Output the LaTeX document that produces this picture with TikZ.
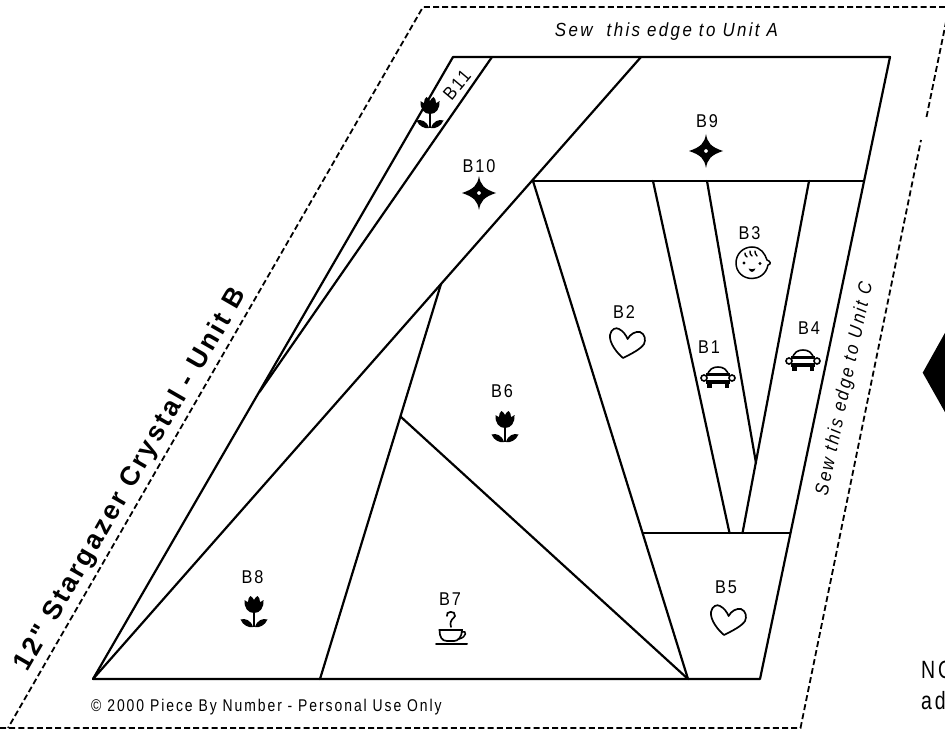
\documentclass[tikz,border=0pt]{standalone}
\usepackage{fontspec}
\usepackage{graphicx}
\setmainfont{Liberation Sans}
\newfontfamily\lab[LetterSpace=12]{Liberation Sans}
\newfontfamily\ita[LetterSpace=14]{Liberation Sans}
\newfontfamily\cpy[LetterSpace=14]{Liberation Sans}
\newfontfamily\ttl[LetterSpace=10]{Liberation Sans}
\newfontfamily\nte[LetterSpace=14]{Liberation Sans}
\newcommand\narrowed[2]{\scalebox{#1}[1]{#2}}
\tikzset{
  seam/.style={line width=2.2pt,line cap=round,line join=round},
  cutline/.style={line width=1.8pt,dash pattern=on 6pt off 3.2pt},
  plabel/.style={inner sep=0pt,font=\lab\fontsize{18.5}{19}\selectfont},
  sewtext/.style={inner sep=0pt,font=\ita\itshape\fontsize{19}{20}\selectfont},
  tulip/.pic={
    \fill (-9.5,-12) .. controls (-8,-11) and (-7,-10) .. (-6,-10) .. controls (-6,-13) and (-5,-15) .. (-3.5,-16) .. controls (-2,-15) and (-1,-14) .. (0,-12) .. controls (1,-14) and (2,-15) .. (3.5,-16) .. controls (5,-15) and (6,-13) .. (6,-10) .. controls (7,-10) and (8,-11) .. (9.5,-12) .. controls (10,-4) and (6,1) .. (0,1) .. controls (-6,1) and (-10,-4) .. (-9.5,-12) -- cycle;
    \draw[line width=1.1pt] (0,0) -- (0,15);
    \fill (-1,15) .. controls (-5,16) and (-11,13.5) .. (-13.5,7.5) .. controls (-9,6) and (-3,8) .. (-1,15) -- cycle;
    \fill (1,15) .. controls (5,16) and (11,13.5) .. (13.5,7.5) .. controls (9,6) and (3,8) .. (1,15) -- cycle;
  },
  starmark/.pic={
    \fill[even odd rule] (0,-17) .. controls (1.5,-8) and (5,-4) .. (17,0) .. controls (5,4) and (1.5,8) .. (0,17) .. controls (-1.5,8) and (-5,4) .. (-17,0) .. controls (-5,-4) and (-1.5,-8) .. (0,-17) -- cycle (0,0) circle (2);
  },
  heartmark/.pic={
    \draw[line width=1.7pt,line join=round] (-4,15) .. controls (-10,10) and (-18,0) .. (-17,-8) .. controls (-16,-14) and (-11,-16) .. (-8,-14) .. controls (-4,-12) and (-1,-8) .. (0.6,-4) .. controls (3,-9) and (9,-12) .. (13,-11) .. controls (18,-9) and (19,-3) .. (17,1) .. controls (14,6) and (4,11) .. (-4,15) -- cycle;
  },
  carmark/.pic={
    \draw[line width=1.6pt] (-11,-1) .. controls (-9,-8) and (-5,-10) .. (0,-10) .. controls (5,-10) and (9,-8) .. (11,-1);
    \fill (-12,-3.8) rectangle (12,-1);
    \draw[line width=1.8pt] (-11.5,-2) -- (-11.5,5) (11.5,-2) -- (11.5,5);
    \fill (-12,3) rectangle (12,6.5);
    \draw[line width=1.6pt] (-14,1) circle (3) (14,1) circle (3);
    \fill (-11,5) rectangle (-6.5,10.8);
    \fill (6.5,5) rectangle (11,10.8);
  },
  babymark/.pic={
    \draw[line width=1.5pt] (16,2) .. controls (14,12) and (6,15.5) .. (0,15.5) .. controls (-9,15.5) and (-16,9) .. (-16,0) .. controls (-16,-9) and (-9,-16) .. (0,-16) .. controls (9,-16) and (13,-9) .. (15,-3) .. controls (18,-2) and (20,1) .. (16,2) -- cycle;
    \fill (-8,0) circle (1.7) (8,0.5) circle (1.7);
    \fill (-3.5,5.5) .. controls (-1,6.5) and (1,6.5) .. (3.5,5.5) .. controls (2,10) and (-2,10) .. (-3.5,5.5) -- cycle;
    \draw[line width=1.4pt,line cap=round] (-7,-10) .. controls (-7,-8) .. (-5,-6) (-2,-12) .. controls (-2,-9) .. (0,-7) (3,-12) .. controls (3,-10) .. (5,-7);
  },
  cupmark/.pic={
    \draw[line width=1.7pt] (-11.5,-7) -- (11,-7) .. controls (11,0) and (7,4) .. (3,4) -- (-4,4) .. controls (-9,4) and (-11.5,0) .. (-11.5,-7) -- cycle;
    \draw[line width=1.5pt] (11,-5) .. controls (16,-7) and (16,0) .. (8,2);
    \draw[line width=2pt,line cap=round] (-15,7) -- (16,7);
    \draw[line width=1.7pt,line cap=round] (-4,-21) .. controls (-6,-26) and (5,-27) .. (4,-21) .. controls (3,-18) and (-2,-18) .. (0,-10);
  },
}
\begin{document}
\begin{tikzpicture}[x=1pt,y=-1pt]
\useasboundingbox (0,0) rectangle (945,730);
\clip (0,0) rectangle (945,730);
\coordinate (bl) at (93,679);
\coordinate (br) at (760,679);
\coordinate (tr) at (890,57);
\coordinate (tl) at (453,57);
\coordinate (t11) at (492,57);
\coordinate (m11) at (259.5,392);
\coordinate (t10) at (641,57);
\coordinate (h9l) at (533,181);
\coordinate (h9r) at (863,181);
\coordinate (a1) at (653,181);
\coordinate (a2) at (707,181);
\coordinate (a3) at (809,181);
\coordinate (b1) at (729.5,533);
\coordinate (b3) at (742.5,533);
\coordinate (mv) at (756,463);
\coordinate (h5l) at (643,533);
\coordinate (h5r) at (790,533);
\coordinate (j7) at (688,679);
\coordinate (p8t) at (441,284);
\coordinate (p8b) at (320,679);
\coordinate (p7) at (401,417);
\draw[seam] (bl) -- (br) -- (tr) -- (tl) -- cycle;
\draw[seam] (t11) -- (m11);
\draw[seam] (bl) -- (t10);
\draw[seam] (h9l) -- (h9r);
\draw[seam] (h9l) -- (j7);
\draw[seam] (a1) -- (b1);
\draw[seam] (a2) -- (mv);
\draw[seam] (a3) -- (b3);
\draw[seam] (h5l) -- (h5r);
\draw[seam] (p8t) -- (p8b);
\draw[seam] (p7) -- (j7);
% cutting line
\coordinate (d0) at (0,728);
\coordinate (d1) at (8,728);
\coordinate (d2) at (423,7);
\coordinate (d3) at (945,7);
\coordinate (d4) at (800.5,728);
\coordinate (d5) at (921,140);
\coordinate (d6) at (926.5,117);
\coordinate (d7) at (946,22);
\draw[cutline] (d3) -- (d2) -- (d1);
\draw[cutline] (d0) -- (d4) -- (d5);
\draw[cutline] (d6) -- (d7);
% pieces
\node[plabel,rotate=50] (lb11) at (457,85) {\narrowed{.88}{B11}};
\node[plabel] (lb10) at (479,166) {\narrowed{.88}{B10}};
\node[plabel] (lb9) at (707,121) {\narrowed{.88}{B9}};
\node[plabel] (lb3) at (749.5,233) {\narrowed{.88}{B3}};
\node[plabel] (lb2) at (624,312) {\narrowed{.88}{B2}};
\node[plabel] (lb1) at (709,347) {\narrowed{.88}{B1}};
\node[plabel] (lb4) at (809,328) {\narrowed{.88}{B4}};
\node[plabel] (lb5) at (726,587) {\narrowed{.88}{B5}};
\node[plabel] (lb6) at (502,391) {\narrowed{.88}{B6}};
\node[plabel] (lb7) at (450,599) {\narrowed{.88}{B7}};
\node[plabel] (lb8) at (252.5,577) {\narrowed{.88}{B8}};
\pic at (430,113) {tulip};
\pic at (254,612) {tulip};
\pic at (505,427) {tulip};
\pic at (479,193) {starmark};
\pic at (706,151) {starmark};
\pic at (627,343) {heartmark};
\pic at (728,620) {heartmark};
\pic at (718,377) {carmark};
\pic at (803,360) {carmark};
\pic at (752,263) {babymark};
\pic at (451,637) {cupmark};
% texts
\node[sewtext] (sewa) at (666.5,32) {\narrowed{.89}{Sew\ \ this edge to Unit A}};
\node[sewtext,rotate=78] (sewc) at (845,389) {\narrowed{.89}{Sew this edge to Unit C}};
\node[inner sep=0pt,font=\cpy\fontsize{17}{18}\selectfont] (copy) at (266.5,707) {\narrowed{.82}{© 2000 Piece By Number - Personal Use Only}};
\node[inner sep=0pt,rotate=60,font=\ttl\bfseries\fontsize{26.8}{27}\selectfont] (title) at (131,480) {12" Stargazer Crystal - Unit B};
\fill (922.7,372.7) -- (946,331) -- (946,414) -- cycle;
\node[anchor=base west,inner sep=0pt,font=\nte\fontsize{25}{26}\selectfont] (noteA) at (921,678.5) {\narrowed{.78}{NO}};
\node[anchor=base west,inner sep=0pt,font=\nte\fontsize{25}{26}\selectfont] (noteB) at (921,709) {\narrowed{.78}{ad}};
\end{tikzpicture}
\end{document}
